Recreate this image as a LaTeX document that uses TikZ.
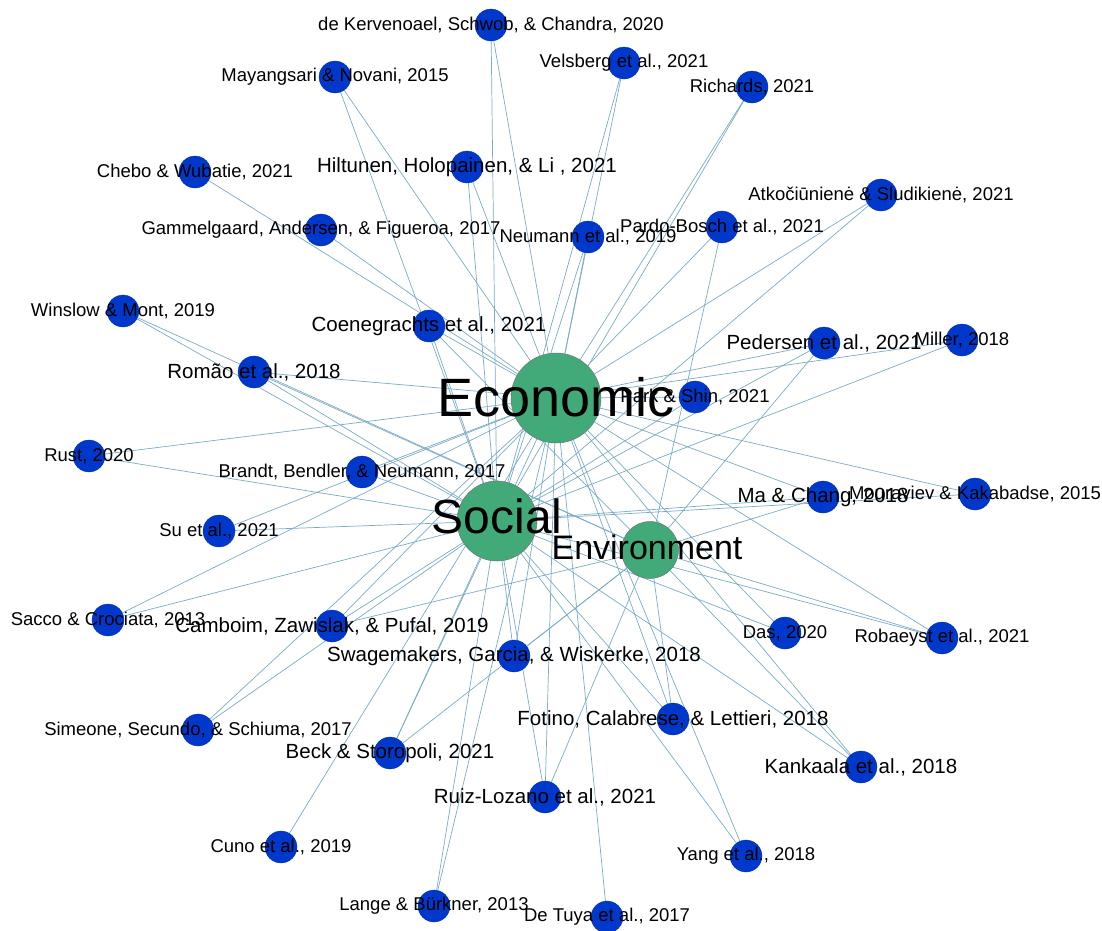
\documentclass[tikz,border=0pt]{standalone}
\usepackage{fontspec}
\setmainfont{Liberation Sans}
\usepackage{tikz}
\usetikzlibrary{backgrounds}
\definecolor{paperblue}{RGB}{0,56,204}
\definecolor{topicgreen}{RGB}{66,170,120}
\definecolor{linkblue}{RGB}{122,170,200}
\tikzset{
    paper/.style={circle, fill=paperblue, draw=paperblue!85!black, line width=0.3pt,
        minimum size=32pt, inner sep=0pt},
    topic/.style={circle, fill=topicgreen, draw=black!55, line width=0.5pt, inner sep=0pt},
    link/.style={draw=linkblue, line width=0.7pt},
    smalltext/.style={inner sep=0pt, font=\fontsize{18.5}{20}\selectfont},
    bigtext/.style={inner sep=0pt, font=\fontsize{20.5}{22}\selectfont},
}

\begin{document}
\begin{tikzpicture}[x=1pt, y=-1pt]
    \useasboundingbox (0,0) rectangle (1102,930);
    % Topics
    \node[topic, minimum size=90pt](eco) at (556,398) {};
    \node[topic, minimum size=80pt](soc) at (497,521) {};
    \node[topic, minimum size=57pt](env) at (650,550) {};
    % Papers
    \node[paper](kervenoael)  at (491,25)  {};
    \node[paper](velsberg)    at (624,63)  {};
    \node[paper](richards)    at (752,87)  {};
    \node[paper](mayangsari)  at (335,77)  {};
    \node[paper](chebo)       at (195,172) {};
    \node[paper](hiltunen)    at (467,167) {};
    \node[paper](gammelgaard) at (321,230) {};
    \node[paper](neumann)     at (588,237) {};
    \node[paper](pardo)       at (722,227) {};
    \node[paper](atko)        at (881,195) {};
    \node[paper](winslow)     at (123,311) {};
    \node[paper](coene)       at (429,326) {};
    \node[paper](romao)       at (254,372) {};
    \node[paper](pedersen)    at (824,343) {};
    \node[paper](miller)      at (962,340) {};
    \node[paper](park)        at (695,397) {};
    \node[paper](rust)        at (89,456)  {};
    \node[paper](brandt)      at (362,472) {};
    \node[paper](su)          at (219,531) {};
    \node[paper](machang)     at (823,497) {};
    \node[paper](mouraviev)   at (975,494) {};
    \node[paper](sacco)       at (108,620) {};
    \node[paper](camboim)     at (332,626) {};
    \node[paper](swage)       at (514,656) {};
    \node[paper](das)         at (785,633) {};
    \node[paper](robaeyst)    at (942,638) {};
    \node[paper](simeone)     at (198,730) {};
    \node[paper](fotino)      at (673,719) {};
    \node[paper](beck)        at (390,753) {};
    \node[paper](kankaala)    at (861,767) {};
    \node[paper](ruiz)        at (545,797) {};
    \node[paper](cuno)        at (281,847) {};
    \node[paper](yang)        at (746,856) {};
    \node[paper](lange)       at (434,906) {};
    \node[paper](detuya)      at (607,917) {};
    % Links
    \begin{scope}[on background layer, every edge/.style={link}]
    \path
        (eco)
            edge (kervenoael) edge (velsberg) edge (richards) edge (mayangsari)
            edge (chebo) edge (hiltunen) edge (gammelgaard) edge (neumann)
            edge (pardo) edge (atko) edge (coene) edge (romao)
            edge (pedersen) edge (miller) edge (park) edge (rust)
            edge (brandt) edge (su) edge (machang) edge (mouraviev)
            edge (sacco) edge (camboim) edge (swage) edge (das)
            edge (robaeyst) edge (simeone) edge (fotino) edge (beck)
            edge (kankaala) edge (ruiz) edge (cuno) edge (yang)
            edge (lange) edge (detuya)
        (soc)
            edge (kervenoael) edge (velsberg) edge (richards) edge (mayangsari)
            edge (hiltunen) edge (neumann) edge (atko) edge (winslow)
            edge (coene) edge (romao) edge (pedersen) edge (miller)
            edge (park) edge (rust) edge (brandt) edge (su)
            edge (machang) edge (mouraviev) edge (sacco) edge (camboim)
            edge (swage) edge (das) edge (robaeyst) edge (simeone)
            edge (fotino) edge (beck) edge (kankaala) edge (ruiz)
            edge (yang) edge (lange)
        (env)
            edge (pardo) edge (winslow) edge (coene) edge (romao)
            edge (pedersen) edge (machang) edge (camboim) edge (swage)
            edge (robaeyst) edge (fotino) edge (beck) edge (kankaala)
            edge (ruiz)
        ;
    \end{scope}
    % Labels
    \node[smalltext](kervenoael-t)  at (kervenoael)  {de Kervenoael, Schwob, \& Chandra, 2020};
    \node[smalltext](velsberg-t)    at (velsberg)    {Velsberg et al., 2021};
    \node[smalltext](richards-t)    at (richards)    {Richards, 2021};
    \node[smalltext](mayangsari-t)  at (mayangsari)  {Mayangsari \& Novani, 2015};
    \node[smalltext](chebo-t)       at (chebo)       {Chebo \& Wubatie, 2021};
    \node[bigtext]  (hiltunen-t)    at (hiltunen)    {Hiltunen, Holopainen, \& Li , 2021};
    \node[smalltext](gammelgaard-t) at (gammelgaard) {Gammelgaard, Andersen, \& Figueroa, 2017};
    \node[smalltext](neumann-t)     at (neumann)     {Neumann et al., 2019};
    \node[smalltext](pardo-t)       at (pardo)       {Pardo-Bosch et al., 2021};
    \node[smalltext](atko-t)        at (atko)        {Atkočiūnienė \& Sludikienė, 2021};
    \node[smalltext](winslow-t)     at (winslow)     {Winslow \& Mont, 2019};
    \node[bigtext]  (coene-t)       at (coene)       {Coenegrachts et al., 2021};
    \node[bigtext]  (romao-t)       at (romao)       {Romão et al., 2018};
    \node[bigtext]  (pedersen-t)    at (pedersen)    {Pedersen et al., 2021};
    \node[smalltext](miller-t)      at (miller)      {Miller, 2018};
    \node[smalltext](park-t)        at (park)        {Park \& Shin, 2021};
    \node[smalltext](rust-t)        at (rust)        {Rust, 2020};
    \node[smalltext](brandt-t)      at (brandt)      {Brandt, Bendler, \& Neumann, 2017};
    \node[smalltext](su-t)          at (su)          {Su et al., 2021};
    \node[bigtext]  (machang-t)     at (machang)     {Ma \& Chang, 2018};
    \node[smalltext](mouraviev-t)   at (mouraviev)   {Mouraviev \& Kakabadse, 2015};
    \node[smalltext](sacco-t)       at (sacco)       {Sacco \& Crociata, 2013};
    \node[bigtext]  (camboim-t)     at (camboim)     {Camboim, Zawislak, \& Pufal, 2019};
    \node[bigtext]  (swage-t)       at (swage)       {Swagemakers, Garcia, \& Wiskerke, 2018};
    \node[smalltext](das-t)         at (das)         {Das, 2020};
    \node[smalltext](robaeyst-t)    at (robaeyst)    {Robaeyst et al., 2021};
    \node[smalltext](simeone-t)     at (simeone)     {Simeone, Secundo, \& Schiuma, 2017};
    \node[bigtext]  (fotino-t)      at (fotino)      {Fotino, Calabrese, \& Lettieri, 2018};
    \node[bigtext]  (beck-t)        at (beck)        {Beck \& Storopoli, 2021};
    \node[bigtext]  (kankaala-t)    at (kankaala)    {Kankaala et al., 2018};
    \node[bigtext]  (ruiz-t)        at (ruiz)        {Ruiz-Lozano et al., 2021};
    \node[smalltext](cuno-t)        at (cuno)        {Cuno et al., 2019};
    \node[smalltext](yang-t)        at (yang)        {Yang et al., 2018};
    \node[smalltext](lange-t)       at (lange)       {Lange \& Bürkner, 2013};
    \node[smalltext](detuya-t)      at (detuya)      {De Tuya et al., 2017};
    \node[inner sep=0pt, font=\fontsize{54}{56}\selectfont](eco-t) at (556,397) {Economic};
    \node[inner sep=0pt, font=\fontsize{48}{50}\selectfont](soc-t) at (497,516) {Social};
    \node[inner sep=0pt, font=\fontsize{34}{36}\selectfont](env-t) at (647,547) {Environment};
\end{tikzpicture}
\end{document}
